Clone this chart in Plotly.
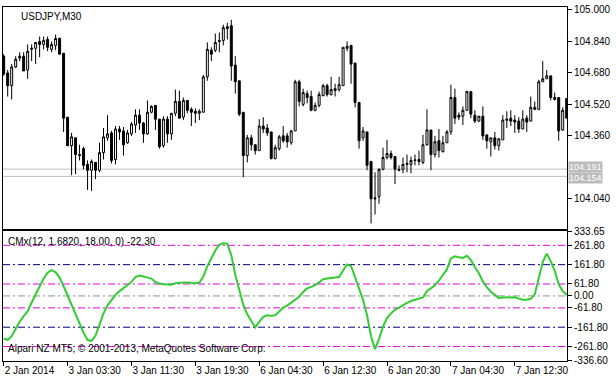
import plotly.graph_objects as go

# ---- data ----
open_ = [104.765,104.680,104.615,104.710,104.755,104.765,104.695,104.800,104.805,104.840,
         104.825,104.850,104.800,104.820,104.855,104.780,104.455,104.310,104.350,104.265,
         104.295,104.215,104.185,104.225,104.185,104.275,104.350,104.375,104.240,104.395,
         104.385,104.325,104.370,104.415,104.465,104.425,104.370,104.480,104.515,104.445,
         104.310,104.445,104.370,104.475,104.535,104.455,104.540,104.495,104.485,104.475,
         104.480,104.660,104.795,104.795,104.845,104.845,104.905,104.920,104.720,104.640,
         104.480,104.260,104.350,104.315,104.285,104.410,104.400,104.380,104.245,104.295,
         104.360,104.360,104.325,104.385,104.635,104.520,104.575,104.560,104.490,104.515,
         104.565,104.615,104.570,104.590,104.595,104.615,104.805,104.820,104.730,104.530,
         104.350,104.380,104.230,104.045,104.050,104.190,104.250,104.270,104.255,104.190,
         104.190,104.215,104.215,104.235,104.240,104.225,104.315,104.390,104.265,104.335,
         104.280,104.325,104.380,104.555,104.465,104.460,104.490,104.585,104.465,104.435,
         104.460,104.365,104.330,104.350,104.310,104.340,104.445,104.450,104.440,104.435,
         104.395,104.450,104.435,104.495,104.495,104.635,104.650,104.665,104.555,104.555,
         104.390,104.550]
high = [104.775,104.695,104.725,104.765,104.785,104.785,104.825,104.825,104.835,104.865,
        104.865,104.865,104.840,104.875,104.860,104.780,104.455,104.375,104.350,104.315,
        104.305,104.235,104.240,104.225,104.325,104.400,104.465,104.385,104.410,104.410,
        104.405,104.390,104.430,104.495,104.495,104.430,104.540,104.515,104.515,104.445,
        104.460,104.460,104.475,104.595,104.590,104.555,104.540,104.505,104.500,104.495,
        104.670,104.835,104.810,104.880,104.885,104.925,104.935,104.950,104.765,104.640,
        104.480,104.365,104.365,104.315,104.445,104.455,104.420,104.380,104.315,104.365,
        104.410,104.375,104.390,104.645,104.645,104.600,104.590,104.590,104.530,104.585,
        104.625,104.625,104.660,104.625,104.660,104.810,104.840,104.820,104.730,104.530,
        104.405,104.380,104.230,104.175,104.195,104.300,104.340,104.285,104.255,104.210,
        104.250,104.265,104.255,104.265,104.285,104.365,104.495,104.390,104.360,104.395,
        104.360,104.390,104.620,104.600,104.480,104.510,104.590,104.585,104.490,104.460,
        104.510,104.365,104.350,104.380,104.345,104.465,104.485,104.490,104.465,104.455,
        104.490,104.465,104.560,104.535,104.645,104.740,104.695,104.665,104.580,104.555,
        104.505,104.550]
low = [104.665,104.560,104.545,104.705,104.740,104.690,104.650,104.740,104.725,104.760,
       104.800,104.790,104.785,104.795,104.775,104.380,104.310,104.160,104.165,104.235,
       104.190,104.085,104.080,104.140,104.175,104.240,104.335,104.220,104.215,104.340,
       104.260,104.320,104.360,104.375,104.390,104.325,104.365,104.475,104.390,104.295,
       104.300,104.325,104.340,104.460,104.450,104.440,104.475,104.410,104.425,104.440,
       104.480,104.640,104.740,104.785,104.785,104.820,104.850,104.640,104.575,104.460,
       104.150,104.225,104.285,104.265,104.285,104.375,104.360,104.240,104.240,104.285,
       104.325,104.300,104.315,104.385,104.510,104.510,104.525,104.485,104.485,104.505,
       104.560,104.560,104.565,104.560,104.585,104.615,104.790,104.625,104.505,104.295,
       104.335,104.185,103.915,103.960,104.015,104.185,104.240,104.240,104.115,104.180,
       104.170,104.175,104.170,104.210,104.210,104.215,104.310,104.185,104.250,104.250,
       104.275,104.325,104.365,104.420,104.440,104.415,104.490,104.450,104.425,104.430,
       104.340,104.295,104.255,104.290,104.285,104.340,104.400,104.410,104.375,104.375,
       104.395,104.380,104.435,104.490,104.490,104.635,104.650,104.540,104.540,104.335,
       104.385,104.450]
close = [104.675,104.615,104.710,104.750,104.765,104.690,104.790,104.805,104.835,104.825,
         104.845,104.810,104.825,104.855,104.775,104.450,104.310,104.355,104.265,104.260,
         104.210,104.185,104.230,104.185,104.275,104.355,104.370,104.235,104.395,104.380,
         104.315,104.375,104.420,104.465,104.425,104.370,104.480,104.510,104.445,104.305,
         104.445,104.370,104.475,104.535,104.450,104.540,104.490,104.480,104.475,104.485,
         104.660,104.800,104.775,104.835,104.840,104.910,104.915,104.715,104.635,104.470,
         104.260,104.350,104.315,104.285,104.410,104.395,104.375,104.245,104.300,104.355,
         104.335,104.330,104.385,104.635,104.535,104.580,104.555,104.490,104.515,104.570,
         104.615,104.570,104.595,104.600,104.620,104.810,104.815,104.725,104.530,104.335,
         104.385,104.210,104.040,104.040,104.190,104.250,104.270,104.250,104.190,104.185,
         104.215,104.220,104.235,104.237,104.230,104.315,104.390,104.265,104.330,104.285,
         104.325,104.380,104.555,104.450,104.455,104.490,104.585,104.470,104.435,104.460,
         104.360,104.335,104.350,104.310,104.345,104.440,104.440,104.435,104.430,104.395,
         104.445,104.430,104.505,104.505,104.635,104.650,104.665,104.555,104.545,104.385,
         104.490,104.450]
cmx = [-222,-227,-208,-170,-132,-105,-80,-34,7,45,
       90,120,133,122,95,50,0,-50,-100,-145,
       -190,-228,-232,-205,-150,-90,-49,-20,5,25,
       42,55,72,98,106,101,97,90,72,64,
       61,58,58,66,69,69,69,67,66,68,
       100,154,195,235,265,272,270,210,110,25,
       -45,-95,-130,-163,-134,-108,-100,-103,-100,-78,
       -60,-50,-36,-20,-4,20,39,47,56,70,
       86,90,94,95,98,132,163,155,100,40,
       -20,-100,-210,-275,-222,-158,-115,-90,-72,-60,
       -47,-36,-26,-20,-14,-8,25,40,55,80,
       107,137,194,205,200,197,208,185,150,118,
       75,45,22,4,-10,-8,-7,-6,-7,-14,
       -20,-20,-15,8,90,175,219,180,130,60,
       25,5]
time_tick_idx = [0, 16, 32, 48, 64, 80, 96, 112, 128]
time_tick_text = ["2 Jan 2014", "3 Jan 03:30", "3 Jan 11:30", "3 Jan 19:30",
                  "6 Jan 04:30", "6 Jan 12:30", "6 Jan 20:30", "7 Jan 04:30", "7 Jan 12:30"]
price_ticks = [105.000, 104.840, 104.680, 104.520, 104.360, 104.040]
ask_price = 104.191
bid_price = 104.154
levels_magenta = [261.8, 61.8, -61.8, -261.8]
levels_blue = [161.8, -161.8]
level_zero = [0.0]
ind_ticks = [333.65, 261.80, 161.80, 61.80, 0.00, -61.80, -161.80, -261.80, -336.60]
price_range = [103.885, 105.015]
ind_range = [-336.60, 333.65]

x = list(range(len(open_)))
FONT = "Liberation Sans"

fig = go.Figure()
fig.add_trace(go.Candlestick(
    x=x, open=open_, high=high, low=low, close=close,
    increasing=dict(line=dict(color="black", width=1), fillcolor="white"),
    decreasing=dict(line=dict(color="black", width=1), fillcolor="black"),
    whiskerwidth=0, xaxis="x", yaxis="y", hoverinfo="skip", showlegend=False))

fig.add_trace(go.Scatter(x=x, y=cmx, mode="lines", line=dict(color="#32cd32", width=2),
                         xaxis="x2", yaxis="y2", hoverinfo="skip", showlegend=False))

shapes = []
for p in (ask_price, bid_price):
    shapes.append(dict(type="line", xref="x domain", yref="y", x0=0, x1=1, y0=p, y1=p,
                       line=dict(color="#c0c0c0", width=1), layer="below"))
DASH = "7px,3px,2px,3px"
for v in levels_magenta:
    shapes.append(dict(type="line", xref="x2 domain", yref="y2", x0=0, x1=1, y0=v, y1=v,
                       line=dict(color="#e600e6", width=1, dash=DASH), layer="below"))
for v in levels_blue:
    shapes.append(dict(type="line", xref="x2 domain", yref="y2", x0=0, x1=1, y0=v, y1=v,
                       line=dict(color="#000080", width=1, dash=DASH), layer="below"))
for v in level_zero:
    shapes.append(dict(type="line", xref="x2 domain", yref="y2", x0=0, x1=1, y0=v, y1=v,
                       line=dict(color="#909090", width=1, dash=DASH), layer="below"))

annotations = [
    dict(text="USDJPY,M30", xref="paper", yref="paper", x=0, y=1, xanchor="left", yanchor="top",
         xshift=16, yshift=-2, showarrow=False, font=dict(family=FONT, size=10, color="black")),
    dict(text="CMx(12, 1.6820, 18.00, 0) -22.30", xref="paper", yref="paper", x=0, y=0.366,
         xanchor="left", yanchor="top", xshift=3, yshift=-3, showarrow=False,
         font=dict(family=FONT, size=10, color="black")),
    dict(text="Alpari NZ MT5, © 2001-2013, MetaQuotes Software Corp.", xref="paper", yref="paper",
         x=0, y=0, xanchor="left", yanchor="bottom", xshift=3, yshift=5, showarrow=False,
         font=dict(family=FONT, size=10, color="black")),
]
for p, sh in ((ask_price, 2), (bid_price, -2)):
    annotations.append(dict(text=f"{p:.3f}", xref="paper", yref="y", x=1, y=p, xanchor="left",
                            yanchor="middle", xshift=1, yshift=sh, showarrow=False,
                            bgcolor="#bcbcbc", borderpad=0,
                            font=dict(family=FONT, size=9, color="white")))

axis_common = dict(showline=True, mirror=True, linecolor="black", linewidth=1,
                   showgrid=False, zeroline=False)
xr = [-0.175, len(open_) - 1 + 0.075]

fig.update_layout(
    width=616, height=378,
    margin=dict(l=2, r=49, t=2, b=17),
    paper_bgcolor="white", plot_bgcolor="white",
    font=dict(family=FONT, size=10, color="black"),
    showlegend=False,
    xaxis=dict(domain=[0, 1], anchor="y", range=xr, showticklabels=False, ticks="",
               rangeslider=dict(visible=False), **axis_common),
    yaxis=dict(domain=[0.372, 1], anchor="x", range=price_range, side="right",
               tickvals=price_ticks, ticktext=[f"{v:.3f}" for v in price_ticks],
               ticks="outside", ticklen=4, tickcolor="black", **axis_common),
    xaxis2=dict(domain=[0, 1], anchor="y2", range=xr, matches="x",
                tickvals=time_tick_idx, ticktext=time_tick_text, ticks="outside", ticklen=4,
                tickcolor="black", ticklabelposition="outside right", **axis_common),
    yaxis2=dict(domain=[0, 0.366], anchor="x2", range=ind_range, side="right",
                tickvals=ind_ticks, ticktext=[f"{v:.2f}" for v in ind_ticks],
                ticks="outside", ticklen=4, tickcolor="black", **axis_common),
    shapes=shapes, annotations=annotations,
)

fig.write_html("out.html")
